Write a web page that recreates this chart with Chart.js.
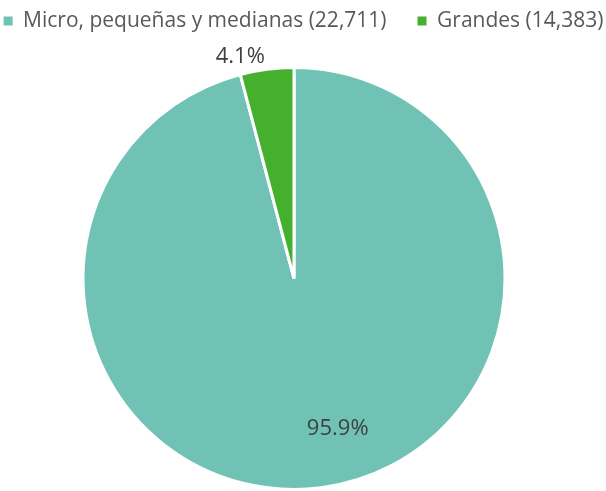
<!DOCTYPE html>
<html>
<head>
<meta charset="utf-8">
<script src="https://cdn.jsdelivr.net/npm/chart.js@4.4.1/dist/chart.umd.min.js"></script>
<style>
  html, body { margin: 0; padding: 0; background: #fff; }
  #wrap { width: 606px; height: 491px; }
</style>
</head>
<body>
<div id="wrap"><canvas id="pie"></canvas></div>
<script>
const categories = ['Micro, pequeñas y medianas (22,711)', 'Grandes (14,383)'];
const shares = [95.9, 4.1];
const sliceColors = ['#70C2B4', '#45B02E'];

// value labels, placed along each slice
const valueLabels = {
  id: 'valueLabels',
  afterDatasetsDraw(chart) {
    const { ctx } = chart;
    const place = [{ r: 0.74, shift: -0.155 }, { r: 1.08, shift: -0.109 }];
    chart.getDatasetMeta(0).data.forEach((arc, i) => {
      const { x, y, startAngle, endAngle, outerRadius } = arc.getProps(['x', 'y', 'startAngle', 'endAngle', 'outerRadius'], true);
      const a = (startAngle + endAngle) / 2 + place[i].shift;
      const r = outerRadius * place[i].r;
      ctx.save();
      ctx.font = '22px "Open Sans", sans-serif';
      ctx.fillStyle = '#404040';
      ctx.textAlign = 'center';
      ctx.textBaseline = 'middle';
      ctx.fillText(shares[i].toFixed(1) + '%', x + Math.cos(a) * r, y + Math.sin(a) * r);
      ctx.restore();
    });
  }
};

// centre the legend row on the canvas and lift it above the pie
const legendNudge = {
  id: 'legendNudge',
  afterLayout(chart) {
    const lg = chart.legend;
    const dx = chart.width / 2 + 0.5 - (lg.left + lg.right) / 2;
    lg.left += dx; lg.right += dx;
    lg.top -= 24.5; lg.bottom -= 24.5;
  }
};

new Chart(document.getElementById('pie'), {
  type: 'pie',
  data: {
    labels: categories,
    datasets: [{
      data: shares,
      backgroundColor: sliceColors,
      borderColor: '#FFFFFF',
      borderWidth: 3
    }]
  },
  options: {
    responsive: true,
    maintainAspectRatio: false,
    animation: false,
    layout: { padding: { top: 4, right: 18, bottom: -6, left: -80 } },
    plugins: {
      legend: {
        position: 'top',
        labels: {
          boxWidth: 9,
          boxHeight: 9,
          padding: 31,
          color: '#595959',
          font: { family: '"Open Sans", sans-serif', size: 21 },
          generateLabels(chart) {
            const items = Chart.overrides.pie.plugins.legend.labels.generateLabels(chart);
            items.forEach(it => { it.lineWidth = 0; });
            return items;
          }
        }
      },
      tooltip: { enabled: false }
    }
  },
  plugins: [valueLabels, legendNudge]
});
</script>
</body>
</html>
